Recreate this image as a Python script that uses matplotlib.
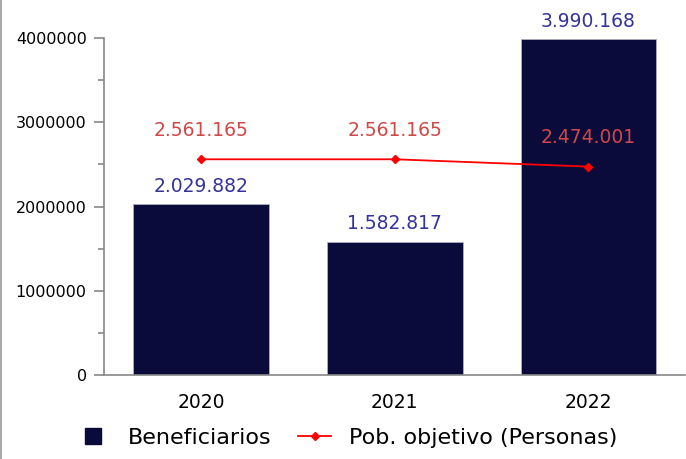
import matplotlib.pyplot as plt
from matplotlib.lines import Line2D
from matplotlib.ticker import MultipleLocator

plt.rcParams["font.family"] = ["DejaVu Sans"]

years = ["2020", "2021", "2022"]
beneficiarios = [2029882, 1582817, 3990168]
pob_objetivo = [2561165, 2561165, 2474001]


def fmt(v):
    return f"{v:,}".replace(",", ".")


fig = plt.figure(figsize=(6.86, 4.59), dpi=100)
ax = fig.add_axes([0.152, 0.183, 0.847, 0.734])

x = range(len(years))
ax.bar(x, beneficiarios, width=0.7, color="#0b0b3b", edgecolor="#b0b0c0",
       linewidth=0.6, label="Beneficiarios", zorder=2)
ax.plot(x, pob_objetivo, color="#ff0000", linewidth=1.3, marker="D",
        markersize=4, label="Pob. objetivo (Personas)", zorder=3)

for i, v in enumerate(beneficiarios):
    ax.annotate(fmt(v), (i, v), xytext=(0, 6), textcoords="offset points",
                ha="center", va="bottom", color="#33339a", fontsize=13.5,
                annotation_clip=False)
for i, v in enumerate(pob_objetivo):
    ax.annotate(fmt(v), (i, v), xytext=(0, 14), textcoords="offset points",
                ha="center", va="bottom", color="#d04848", fontsize=13.5,
                annotation_clip=False)

ax.set_xlim(-0.5, 2.5)
ax.set_ylim(0, 4000000)
ax.set_xticks(list(x))
ax.set_xticklabels(years, fontsize=13.5)
ax.tick_params(axis="x", length=0, pad=13)
ax.yaxis.set_major_locator(MultipleLocator(1000000))
ax.yaxis.set_minor_locator(MultipleLocator(500000))
ax.tick_params(axis="y", which="major", length=7.2, width=1.2,
               color="#888888", labelsize=11.5, pad=5.5)
ax.tick_params(axis="y", which="minor", length=4.5, width=1.2,
               color="#888888")
ax.ticklabel_format(axis="y", style="plain")

for s in ["top", "right"]:
    ax.spines[s].set_visible(False)
for s in ["left", "bottom"]:
    ax.spines[s].set_color("#888888")
    ax.spines[s].set_linewidth(1.2)

handles = [
    Line2D([], [], marker="s", linestyle="none", color="#0b0b3b",
           markersize=11),
    Line2D([], [], color="#ff0000", marker="D", markersize=4, linewidth=1.3),
]
fig.legend(handles, ["Beneficiarios", "Pob. objetivo (Personas)"],
           loc="lower center", bbox_to_anchor=(0.506, -0.02), ncol=2,
           frameon=False, fontsize=16, handlelength=1.5, columnspacing=1.2)

fig.add_artist(Line2D([0.001, 0.001], [0, 1], color="#999999", linewidth=1.2))

fig.savefig("out.png", dpi=100)
